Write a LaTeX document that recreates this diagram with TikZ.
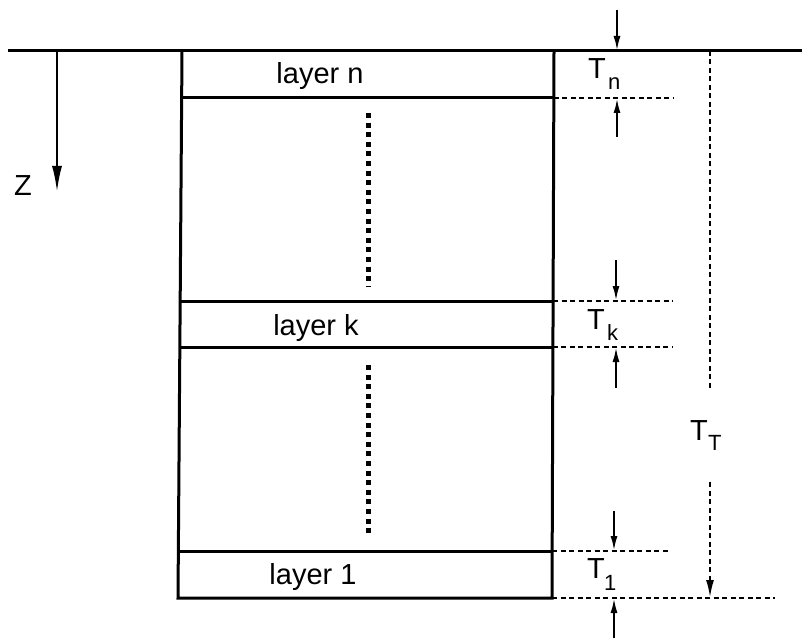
\documentclass[tikz,border=0pt]{standalone}
\usepackage{fontspec}
\setmainfont{Liberation Sans}
\usetikzlibrary{arrows.meta}
\begin{document}
\begin{tikzpicture}[x=1pt,y=-1pt,
  heavy/.style={line width=3pt},
  dimline/.style={line width=2.3pt, dash pattern=on 5pt off 3.5pt},
  dimarrow/.style={line width=2.2pt,-{Latex[length=15pt,width=7pt]}},
  dotcol/.style={line width=5pt, dash pattern=on 5pt off 4.6pt},
  lbl/.style={font=\fontsize{29}{29}\selectfont, inner sep=0pt, anchor=base},
  sym/.style={font=\fontsize{29}{29}\selectfont, inner sep=0pt, anchor=base west},
  sub/.style={font=\fontsize{22}{22}\selectfont, inner sep=0pt, anchor=base west},
]
\useasboundingbox (0,0) rectangle (802,639);
% ground surface and column
\coordinate (gl) at (8,51);   \coordinate (gr) at (802,51);
\coordinate (tl) at (182,51); \coordinate (tr) at (554,51);
\coordinate (bl) at (178,598);\coordinate (br) at (552,598);
\draw[heavy] (gl) -- (gr);
\draw[heavy] (tl) -- (bl) -- (br) -- (tr);
% layer interfaces
\coordinate (nl) at (181.7,98);  \coordinate (nr) at (553.8,98);
\coordinate (kal) at (180.2,301); \coordinate (kar) at (553.1,301);
\coordinate (kbl) at (179.8,347); \coordinate (kbr) at (552.9,347);
\coordinate (ol) at (178.3,551); \coordinate (or) at (552.2,551);
\draw[heavy] (nl) -- (nr);
\draw[heavy] (kal) -- (kar);
\draw[heavy] (kbl) -- (kbr);
\draw[heavy] (ol) -- (or);
% layer labels
\node[lbl] (ln) at (320,84) {layer n};
\node[lbl] (lk) at (316,335) {layer k};
\node[lbl] (l1) at (313,584) {layer 1};
% dotted continuation
\coordinate (d1a) at (368,113); \coordinate (d1b) at (368,286);
\coordinate (d2a) at (368,365); \coordinate (d2b) at (368,536);
\draw[dotcol] (d1a) -- (d1b);
\draw[dotcol] (d2a) -- (d2b);
% z axis
\coordinate (za) at (57,51); \coordinate (zb) at (57,192);
\draw[line width=2.2pt,-{Latex[length=26pt,width=10pt]}] (za) -- (zb);
\node[sym] (z) at (14,195) {Z};
% dimension lines
\coordinate (e98) at (673,98);
\coordinate (e301) at (673,301);
\coordinate (e347) at (673,347);
\coordinate (e551) at (670,551);
\coordinate (e598) at (775,598);
\draw[dimline] (nr) -- (e98);
\draw[dimline] (kar) -- (e301);
\draw[dimline] (kbr) -- (e347);
\draw[dimline] (or) -- (e551);
\draw[dimline] (br) -- (e598);
% T_n arrows
\coordinate (an1) at (617,10);  \coordinate (an1e) at (617,51);
\coordinate (an2) at (617,137); \coordinate (an2e) at (617,98);
\draw[dimarrow] (an1) -- (an1e);
\draw[dimarrow] (an2) -- (an2e);
% T_k arrows
\coordinate (ak1) at (616,260); \coordinate (ak1e) at (616,301);
\coordinate (ak2) at (616,388); \coordinate (ak2e) at (616,347);
\draw[dimarrow] (ak1) -- (ak1e);
\draw[dimarrow] (ak2) -- (ak2e);
% T_1 arrows
\coordinate (a11) at (614,511); \coordinate (a11e) at (614,551);
\coordinate (a12) at (614,638); \coordinate (a12e) at (614,598);
\draw[dimarrow] (a11) -- (a11e);
\draw[dimarrow] (a12) -- (a12e);
% total thickness
\coordinate (tt1) at (710,51);  \coordinate (tt2) at (710,390);
\coordinate (tt3) at (710,482); \coordinate (tt4) at (710,598);
\draw[dimline] (tt1) -- (tt2);
\draw[dimline,-{Latex[length=18pt,width=8pt]}] (tt3) -- (tt4);
% thickness labels
\node[sym] (tn) at (588,79) {T};  \node[sub] (tns) at (608,90) {n};
\node[sym] (tk) at (587,329) {T}; \node[sub] (tks) at (607,340) {k};
\node[sym] (t1) at (587,578) {T}; \node[sub] (t1s) at (604,590) {1};
\node[sym] (tt) at (690,440) {T}; \node[sub] (tts) at (708,450) {T};
\end{tikzpicture}
\end{document}
